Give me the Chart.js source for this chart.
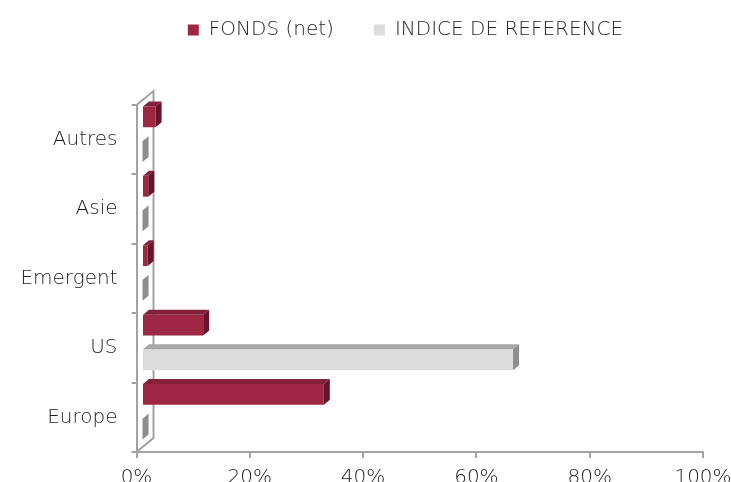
<!DOCTYPE html>
<html lang="fr">
<head>
<meta charset="UTF-8">
<title>FONDS vs INDICE DE REFERENCE</title>
<script src="https://cdn.jsdelivr.net/npm/chart.js"></script>
<style>
    body { margin: 0; background: #ffffff; overflow: hidden; }
    canvas { display: block; }
</style>
</head>
<body>
<canvas id="chart" width="731" height="502"></canvas>
<script>
    // données (%)
    const categories = ['Autres', 'Asie', 'Emergent', 'US', 'Europe'];
    const fonds = [2.4, 1.1, 1.0, 10.8, 32.1];
    const indice = [0.1, 0.1, 0.1, 65.5, 0.1];
    const xTicks = [0, 20, 40, 60, 80, 100];

    const font = { family: '"DejaVu Sans", sans-serif', size: 20, weight: '200' };
    const textColor = '#1e1e1e';
    const axisColor = '#a3a3a3';

    // pseudo 3D : décalage des barres, profondeur, paroi
    const shift = { dx: 5.5, dy: 5.5 };
    const depth = { dx: 6, dy: 5 };
    const wall = { dx: 17, dy: 14 };
    const faces = [
        { top: '#84203a', side: '#661429' },
        { top: '#a8a8a8', side: '#8e8e8e' }
    ];

    function poly(ctx, pts) {
        ctx.beginPath();
        ctx.moveTo(pts[0][0], pts[0][1]);
        for (let i = 1; i < pts.length; i++) ctx.lineTo(pts[i][0], pts[i][1]);
        ctx.closePath();
        ctx.fill();
    }

    function noPadding(s) {
        s.paddingTop = 0;
        s.paddingBottom = 0;
        s.paddingLeft = 0;
        s.paddingRight = 0;
    }

    const threeD = {
        id: 'threeD',
        beforeInit(chart) {
            const fit = chart.legend.fit;
            chart.legend.fit = function () {
                fit.call(this);
                this.height += 27;
            };
        },
        afterLayout(chart) {
            // légende décalée comme sur l'original
            const lg = chart.legend;
            lg.left += 54;
            lg.right += 54;
            lg.top -= 28;
        },
        beforeDatasetsDraw(chart) {
            const { ctx, chartArea: a } = chart;
            const x0 = chart.scales.x.getPixelForValue(0);
            ctx.save();
            ctx.strokeStyle = axisColor;
            ctx.lineWidth = 2;
            ctx.beginPath();
            ctx.moveTo(x0, a.top);
            ctx.lineTo(x0 + wall.dx, a.top - wall.dy);
            ctx.lineTo(x0 + wall.dx, a.bottom - wall.dy);
            ctx.lineTo(x0, a.bottom);
            ctx.stroke();
            ctx.restore();
        },
        beforeDatasetDraw(chart) {
            chart.ctx.save();
            chart.ctx.translate(shift.dx, -shift.dy);
        },
        afterDatasetDraw(chart, args) {
            const ctx = chart.ctx;
            const f = faces[args.index];
            args.meta.data.forEach(bar => {
                const { x, y, base, height } = bar.getProps(['x', 'y', 'base', 'height'], true);
                const top = y - height / 2, bottom = y + height / 2;
                ctx.fillStyle = f.top;
                poly(ctx, [[base, top], [base + depth.dx, top - depth.dy], [x + depth.dx, top - depth.dy], [x, top]]);
                ctx.fillStyle = f.side;
                poly(ctx, [[x, top], [x + depth.dx, top - depth.dy], [x + depth.dx, bottom - depth.dy], [x, bottom]]);
            });
            ctx.restore();
        }
    };

    new Chart(document.getElementById('chart'), {
        type: 'bar',
        data: {
            labels: categories,
            datasets: [
                { label: 'FONDS (net)', data: fonds, backgroundColor: '#9e2843' },
                { label: 'INDICE DE REFERENCE', data: indice, backgroundColor: '#dcdcdd' }
            ]
        },
        options: {
            indexAxis: 'y',
            responsive: false,
            animation: false,
            layout: { padding: { top: 8, left: 0, right: 28, bottom: 4 } },
            datasets: { bar: { barPercentage: 0.6, categoryPercentage: 1, clip: false } },
            plugins: {
                tooltip: { enabled: false },
                legend: {
                    position: 'top',
                    labels: {
                        boxWidth: 11,
                        boxHeight: 11,
                        padding: 40,
                        color: textColor,
                        font: font
                    }
                }
            },
            scales: {
                x: {
                    min: 0,
                    max: 100,
                    afterBuildTicks: s => { s.ticks = xTicks.map(v => ({ value: v })); },
                    afterFit: noPadding,
                    ticks: { callback: v => v + '%', color: textColor, font: font, padding: 8, maxRotation: 0 },
                    grid: { drawOnChartArea: false, tickLength: 6, color: axisColor, lineWidth: 2 },
                    border: { color: axisColor, width: 2 }
                },
                y: {
                    afterFit: s => { noPadding(s); s.width = 136.5; },
                    ticks: { color: textColor, font: font, padding: 14 },
                    grid: { drawOnChartArea: false, tickLength: 5, color: axisColor, lineWidth: 2 },
                    border: { color: axisColor, width: 2 }
                }
            }
        },
        plugins: [threeD]
    });
</script>
</body>
</html>
